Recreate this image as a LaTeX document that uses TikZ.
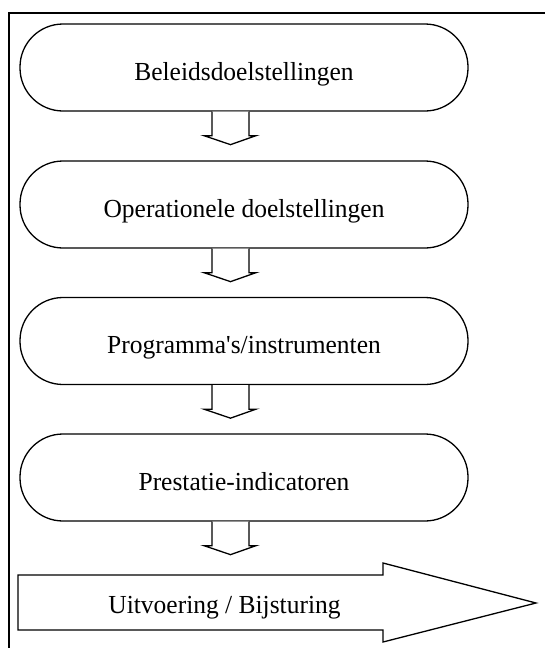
\documentclass[tikz,border=0pt]{standalone}
\usepackage{fontspec}
\setmainfont[FakeStretch=0.98]{Liberation Serif}
\begin{document}
\begin{tikzpicture}[x=1pt,y=-1pt,
  stage/.style={draw, line width=1.3pt, rounded corners=43pt,
    minimum width=448pt, minimum height=87pt, inner sep=0pt,
    text height=25pt, text depth=0pt,
    font=\fontsize{26}{30}\selectfont},
  downarrow/.style={draw, line width=1.3pt, fill=white},
  frame/.style={draw, line width=1.8pt}]
\useasboundingbox (0,0) rectangle (544,648);

% outer frame, open to the right and bottom
\draw[frame] (9,660) -- (9,13) -- (560,13);

% process stages
\node[stage] (b1) at (244,67.5)  {Beleidsdoelstellingen};
\node[stage] (b2) at (244,204.5) {Operationele doelstellingen};
\node[stage] (b3) at (244,341)   {Programma\textquotesingle s/instrumenten};
\node[stage] (b4) at (244,477.5) {Prestatie-indicatoren};

% hollow down arrows below each stage
\foreach \a in {b1,b2,b3,b4}{
  \draw[downarrow] ([xshift=-32pt]\a.south) -- ++(0,24) -- ++(-8,0)
    -- ([xshift=-13.5pt,yshift=-33pt]\a.south)
    -- ([xshift=12pt,yshift=-24pt]\a.south)
    -- ++(-7,0) -- ([xshift=5pt]\a.south);
}

% final block arrow
\coordinate (t0) at (18,575);
\draw[line width=1.3pt] (t0) -- (383,575) -- (383,563) -- (536,603)
  -- (383,642) -- (383,630) -- (18,630) -- cycle;
\node[font=\fontsize{26}{30}\selectfont, text height=21pt, text depth=0pt,
  inner sep=0pt] (ub) at (224.5,602.5) {Uitvoering / Bijsturing};
\end{tikzpicture}
\end{document}
